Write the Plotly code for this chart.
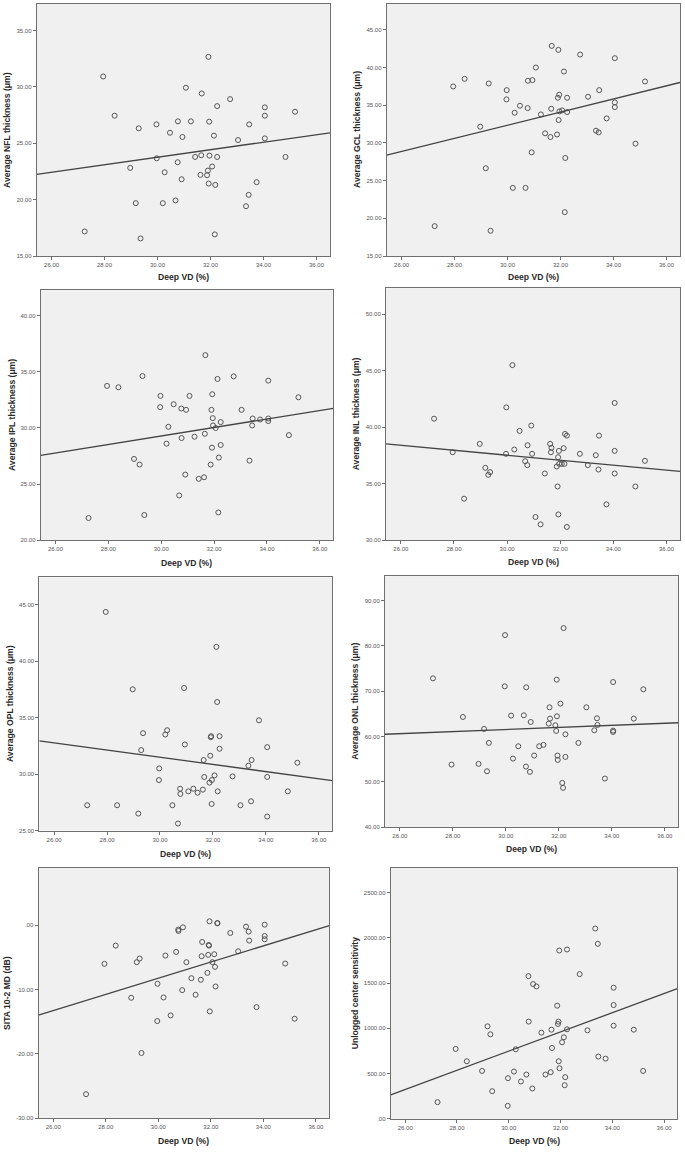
import numpy as np
import plotly.graph_objects as go

# ---------------- data ----------------
DEEP_VD = [27.25, 27.95, 28.38, 28.97, 29.18, 29.29, 29.36, 29.96, 29.97, 30.20,
           30.27, 30.47, 30.68, 30.76, 30.77, 30.91, 30.94, 31.07, 31.26, 31.42,
           31.62, 31.65, 31.67, 31.87, 31.90, 31.92, 31.93, 31.95, 31.96, 32.06,
           32.13, 32.16, 32.18, 32.25, 32.25, 32.74, 33.04, 33.34, 33.44, 33.46,
           33.74, 34.05, 34.05, 34.05, 34.83, 35.19]

NFL = [17.18, 30.93, 27.45, 22.82, 19.69, 26.33, 16.56, 26.68, 23.67, 19.69,
       22.43, 25.94, 19.93, 23.32, 26.95, 21.81, 25.56, 29.93, 26.95, 23.79,
       22.20, 23.94, 29.42, 22.17, 22.58, 32.67, 21.43, 26.92, 23.91, 22.94,
       25.68, 16.92, 21.31, 28.30, 23.79, 28.92, 25.29, 19.42, 20.43, 26.68,
       21.55, 28.19, 27.45, 25.44, 23.79, 27.80]

GCL = [18.97, 37.50, 38.51, 32.16, 26.65, 37.89, 18.35, 35.78, 37.01, 24.04,
       34.01, 34.94, 24.04, 34.63, 38.25, 28.76, 38.34, 40.01, 33.79, 31.28,
       30.79, 34.54, 42.88, 31.13, 36.00, 42.35, 33.04, 36.40, 34.19, 34.32,
       39.48, 20.82, 28.01, 34.10, 36.00, 41.73, 36.13, 31.63, 31.41, 37.01,
       33.26, 41.25, 35.38, 34.76, 29.91, 38.16]

IPL = [21.98, 33.74, 33.62, 27.24, 26.74, 34.62, 22.25, 31.85, 32.85, 28.60,
       30.10, 32.11, 23.99, 31.73, 29.10, 25.85, 31.61, 32.85, 29.22, 25.47,
       25.61, 29.48, 36.48, 26.74, 31.61, 28.24, 33.00, 30.87, 30.22, 29.99,
       34.36, 22.48, 27.36, 30.52, 28.48, 34.59, 31.61, 27.09, 30.22, 30.84,
       30.75, 34.21, 30.84, 30.61, 29.36, 32.73]

INL = [40.76, 37.79, 33.68, 38.53, 36.41, 35.79, 36.03, 37.65, 41.76, 45.50,
       38.03, 39.68, 37.00, 36.65, 38.41, 40.15, 37.65, 32.06, 31.41, 35.91,
       38.53, 37.79, 38.18, 36.53, 34.76, 37.35, 32.29, 37.91, 36.76, 36.76,
       38.15, 36.76, 39.41, 31.18, 39.26, 37.65, 36.65, 37.53, 36.26, 39.26,
       33.18, 42.15, 37.91, 35.91, 34.76, 37.03]

OPL = [27.24, 44.35, 27.24, 37.50, 26.50, 32.12, 33.62, 29.47, 30.50, 33.50,
       33.88, 27.24, 25.62, 28.70, 28.24, 37.62, 32.62, 28.47, 28.70, 28.35,
       28.62, 31.24, 29.74, 29.24, 31.62, 33.26, 33.35, 27.35, 29.47, 29.88,
       41.26, 36.38, 28.47, 33.35, 32.24, 29.79, 27.24, 30.74, 27.59, 31.24,
       34.76, 32.38, 29.74, 26.24, 28.47, 31.00]

ONL = [72.82, 53.80, 64.30, 53.95, 61.66, 52.33, 58.58, 71.06, 82.36, 64.60,
       55.12, 57.84, 64.67, 53.36, 70.84, 52.19, 63.20, 55.79, 57.84, 58.14,
       62.83, 66.43, 63.94, 62.47, 61.22, 72.53, 64.45, 55.79, 54.83, 67.24,
       49.76, 48.66, 83.91, 60.48, 55.49, 58.58, 66.43, 61.37, 64.01, 62.54,
       50.72, 72.01, 61.29, 61.00, 63.94, 70.40]

SITA_MD = [-26.28, -6.00, -3.16, -11.28, -5.74, -5.17, -19.87, -14.90, -9.10, -11.23,
           -4.71, -14.02, -4.14, -0.67, -0.88, -10.09, -0.31, -5.74, -8.23, -10.81,
           -8.48, -4.81, -2.59, -7.40, -4.60, -3.05, -3.16, 0.62, -13.40, -5.74,
           -4.50, -6.47, -9.52, 0.36, 0.31, -1.19, -4.04, -0.21, -0.98, -2.38,
           -12.73, 0.10, -1.66, -2.17, -5.95, -14.54]

UNLOGGED = [184, 772, 636, 529, 1022, 934, 305, 143, 449, 522,
            768, 412, 489, 1577, 1074, 335, 1489, 1463, 952, 489,
            515, 985, 783, 1250, 1048, 1074, 636, 1860, 559, 846,
            901, 371, 460, 1871, 989, 1599, 978, 2103, 1934, 688,
            665, 1449, 1257, 1029, 985, 529]

X_RANGE = [25.44, 36.51]
X_TICKS = [26, 28, 30, 32, 34, 36]
X_TICK_LABELS = ["26.00", "28.00", "30.00", "32.00", "34.00", "36.00"]
X_TITLE = "Deep VD (%)"

Y_SERIES = [NFL, GCL, IPL, INL, OPL, ONL, SITA_MD, UNLOGGED]
Y_TITLES = ["Average NFL thickness (μm)", "Average GCL thickness (μm)",
            "Average IPL thickness (μm)", "Average INL thickness (μm)",
            "Average OPL thickness (μm)", "Average ONL thickness (μm)",
            "SITA 10-2 MD (dB)", "Unlogged center sensitivity"]
Y_RANGES = [[15, 37.36], [15, 48.44], [20, 42.3], [30, 52.3],
            [25, 47.4], [40, 95.35], [-30, 8.96], [0, 2775]]
Y_TICKS = [[15, 20, 25, 30, 35], [15, 20, 25, 30, 35, 40, 45],
           [20, 25, 30, 35, 40], [30, 35, 40, 45, 50],
           [25, 30, 35, 40, 45], [40, 50, 60, 70, 80, 90],
           [-30, -20, -10, 0], [0, 500, 1000, 1500, 2000, 2500]]
Y_TICK_LABELS = [["15.00", "20.00", "25.00", "30.00", "35.00"],
                 ["15.00", "20.00", "25.00", "30.00", "35.00", "40.00", "45.00"],
                 ["20.00", "25.00", "30.00", "35.00", "40.00"],
                 ["30.00", "35.00", "40.00", "45.00", "50.00"],
                 ["25.00", "30.00", "35.00", "40.00", "45.00"],
                 ["40.00", "50.00", "60.00", "70.00", "80.00", "90.00"],
                 ["-30.00", "-20.00", "-10.00", ".00"],
                 [".00", "500.00", "1000.00", "1500.00", "2000.00", "2500.00"]]

# ---------------- layout (pixel boxes) ----------------
W, H = 685, 1153
# left, right, top, bottom, y-title x, x-title y
BOXES = [
    (36.7, 330.0, 4.0, 256.7, 7, 278),
    (386.7, 680.0, 4.0, 256.7, 357, 278),
    (40.7, 333.3, 290.5, 541.7, 12, 564),
    (386.0, 680.0, 289.0, 541.7, 356, 563),
    (39.3, 332.3, 579.0, 832.7, 10, 856),
    (385.0, 678.3, 577.7, 829.3, 355, 851),
    (38.5, 329.3, 870.0, 1121.0, 7, 1144),
    (390.7, 677.3, 870.0, 1121.7, 355, 1144),
]

MARKER_COLOR = "#555555"
LINE_COLOR = "#444444"
AXIS_COLOR = "#707070"
TICKFONT = dict(family="Liberation Sans, Arial, sans-serif", size=6, color="#555555")
TITLEFONT = dict(family="Liberation Sans, Arial, sans-serif", size=8.6, color="#2a2a2a")

fig = go.Figure()
layout = dict(width=W, height=H, margin=dict(l=0, r=0, t=0, b=0),
              paper_bgcolor="white", plot_bgcolor="#f0f0f0",
              showlegend=False, annotations=[])

x_arr = np.array(DEEP_VD)
for i, (ys, title, yr, yt, ytl, box) in enumerate(
        zip(Y_SERIES, Y_TITLES, Y_RANGES, Y_TICKS, Y_TICK_LABELS, BOXES)):
    n = "" if i == 0 else str(i + 1)
    xa, ya = "x" + n, "y" + n
    left, right, top, bottom, ytx, xty = box

    fig.add_trace(go.Scatter(
        x=DEEP_VD, y=ys, mode="markers", xaxis=xa, yaxis=ya,
        marker=dict(symbol="circle-open", size=5, color=MARKER_COLOR,
                    line=dict(width=1, color=MARKER_COLOR)),
        hoverinfo="x+y", cliponaxis=True))

    slope, intercept = np.polyfit(x_arr, np.array(ys, dtype=float), 1)
    fx = np.array(X_RANGE)
    fig.add_trace(go.Scatter(
        x=fx, y=slope * fx + intercept, mode="lines", xaxis=xa, yaxis=ya,
        line=dict(color=LINE_COLOR, width=1.3), hoverinfo="skip"))

    common = dict(showgrid=False, zeroline=False, showline=True, mirror=True,
                  linecolor=AXIS_COLOR, linewidth=1, ticks="outside", ticklen=3,
                  tickwidth=1, tickcolor=AXIS_COLOR, tickfont=TICKFONT)
    layout["xaxis" + n] = dict(common, domain=[left / W, right / W],
                               range=X_RANGE, tickvals=X_TICKS,
                               ticktext=X_TICK_LABELS, anchor=ya)
    layout["yaxis" + n] = dict(common, domain=[1 - bottom / H, 1 - top / H],
                               range=yr, tickvals=yt, ticktext=ytl, anchor=xa)

    layout["annotations"].append(dict(
        text="<b>" + X_TITLE + "</b>", xref="paper", yref="paper",
        x=(left + right) / 2 / W, y=1 - xty / H, xanchor="center",
        yanchor="middle", showarrow=False, font=TITLEFONT))
    layout["annotations"].append(dict(
        text="<b>" + title + "</b>", xref="paper", yref="paper",
        x=ytx / W, y=1 - (top + bottom) / 2 / H, xanchor="center",
        yanchor="middle", textangle=-90, showarrow=False, font=TITLEFONT))

fig.update_layout(**layout)
fig.write_html("out.html",
               config={"displayModeBar": False},
               post_script="document.body.style.margin='0px';"
                           "document.body.style.padding='0px';")
